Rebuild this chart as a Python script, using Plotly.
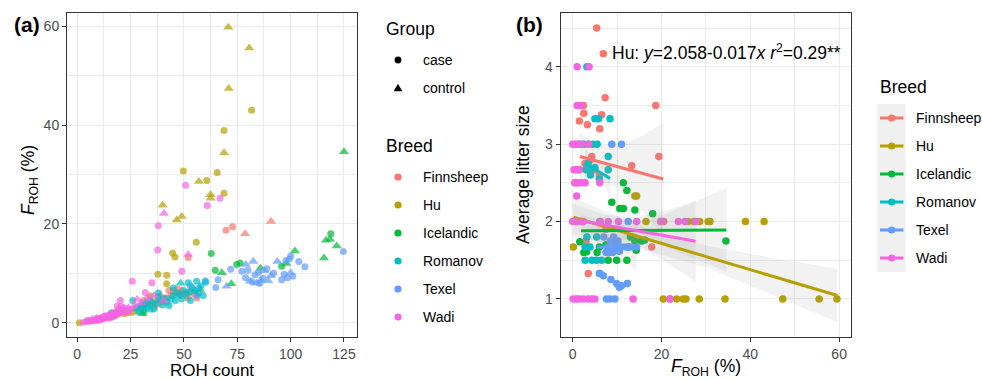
import plotly.graph_objects as go

W, H = 982, 380
FONT = "Liberation Sans, Arial, Helvetica, sans-serif"

breeds = ["Finnsheep", "Hu", "Icelandic", "Romanov", "Texel", "Wadi"]
breed_colors = ["#F8766D", "#B79F00", "#00BA38", "#00BFC4", "#619CFF", "#F564E3"]
group_labels = ["case", "control"]

# ---------------- panel (a): ROH count vs F_ROH (%) ; group c=case, t=control
a_count_fin = [90.8, 78.7, 69.7, 72.8, 52.0, 30, 33, 35, 37, 38, 40, 42, 44, 45, 46, 47, 48, 49, 50, 51, 52, 53, 55, 56, 43, 39, 36, 31]
a_froh_fin = [20.5, 18.0, 18.7, 19.4, 13.2, 3.0, 3.8, 4.2, 4.5, 3.8, 4.3, 5.0, 5.5, 6.5, 6.0, 6.8, 5.8, 6.5, 6.0, 5.5, 5.0, 6.2, 5.8, 5.0, 6.5, 5.5, 3.2, 4.5]
a_group_fin = "ttccccccccccccccctccccccctcc"

a_count_hu = [1, 70.8, 80.6, 71, 68.8, 57, 62.5, 62.5, 40, 49, 46.6, 81.7, 68.8, 49.7, 60.7, 65.6, 68.8, 55.8, 44.7, 45.8, 37.8, 41.9, 41.9, 34.2, 22, 24, 26, 17, 28]
a_froh_hu = [0.0, 59.8, 55.6, 47.4, 34.4, 28.6, 25.9, 25.2, 23.8, 21.5, 20.8, 43.0, 38.9, 30.7, 28.8, 30.4, 26.2, 16.3, 14.1, 13.3, 9.8, 9.6, 7.9, 5.4, 1.8, 2.0, 2.1, 1.3, 2.4]
a_group_hu = "cttttttttttcccccccccccccccccc"

a_count_ice = [125, 116.6, 118.5, 121.6, 115.6, 102, 118.8, 95.8, 62.8, 64.7, 74.7, 76.3, 67.8, 72.2, 85.8, 30.6, 57.5, 31, 98]
a_froh_ice = [34.6, 16.7, 16.9, 15.5, 13.1, 14.5, 18.0, 11.4, 14.0, 10.6, 11.8, 12.1, 10.1, 7.9, 11.0, 1.8, 6.7, 2.2, 12.0]
a_group_ice = "ttttttcccccctttttct"

a_count_rom = [16, 28, 29, 30, 31, 32, 33, 34, 35, 36, 37, 38, 39, 40, 41, 42, 43, 44, 45, 46, 47, 48, 48.5, 49, 50, 51, 52, 52.5, 53, 54, 55, 56, 57, 58, 60.2, 59, 34, 27, 31.5, 45, 38, 26]
a_froh_rom = [2.0, 3.0, 2.2, 3.5, 2.8, 4.0, 3.2, 4.5, 3.8, 2.8, 4.0, 5.2, 4.5, 3.6, 5.0, 4.2, 3.5, 4.8, 5.5, 4.5, 6.0, 5.5, 8.0, 4.8, 6.5, 5.8, 8.1, 6.2, 4.5, 7.0, 6.5, 8.4, 6.0, 7.5, 8.2, 5.5, 2.5, 2.8, 3.5, 7.0, 6.0, 4.5]
a_group_rom = "cccccccccccctccccccccctccccccccccccctttccc"

a_count_tex = [71.9, 64.9, 66, 70, 77.1, 78.9, 82.5, 81, 83.3, 85, 86, 87, 88.8, 90.7, 93.8, 95.8, 97.8, 99.4, 100, 98.4, 103.8, 106.7, 124.7, 84, 82, 89.5, 80, 92, 79, 97, 101, 56, 57, 53, 60, 87.5, 85.5, 100]
a_froh_tex = [10.8, 7.1, 8.7, 7.4, 10.4, 9.1, 12.4, 8.4, 9.7, 10.2, 8.6, 9.0, 10.9, 9.5, 12.4, 8.7, 12.6, 12.9, 10.1, 9.1, 12.4, 11.3, 14.4, 8.0, 8.3, 8.5, 10.6, 10.0, 11.8, 9.8, 9.4, 5.5, 7.0, 7.5, 8.5, 10.5, 8.0, 13.5]
a_group_tex = "ccctccttcctccttccctcccctctcctcccccctcc"

a_count_wad = [3, 4, 5, 6, 6.5, 7, 8, 8.5, 9, 10, 10.5, 11, 11.5, 12, 12.5, 13, 13.5, 14, 14.5, 15,
               15.5, 16, 16.5, 17, 17.5, 18, 18.5, 19, 19.5, 20, 21, 22, 23, 24, 25, 14, 16, 19, 21, 20.5, 22, 17, 12, 9,
               18.8, 20.2, 25.8, 28, 31.9, 35, 37.7, 38, 40.5, 40.6, 49, 50.8, 52, 60.9, 66.9, 36, 33, 27, 30,
               5, 7, 9, 11, 13, 15, 17, 18, 20, 23, 24, 10, 15.5, 22.5]
a_froh_wad = [0.1, 0.2, 0.25, 0.3, 0.35, 0.4, 0.45, 0.5, 0.55, 0.6, 0.7, 0.7, 0.8, 0.85, 0.9, 0.95, 1.0, 1.05, 1.1, 1.15,
              1.2, 1.3, 1.3, 1.45, 1.5, 1.55, 1.7, 1.8, 1.9, 2.0, 2.1, 2.3, 2.4, 2.5, 2.7, 1.4, 1.7, 2.5, 2.8, 3.2, 3.0, 2.0, 1.2, 0.8,
              3.4, 4.5, 8.4, 4.7, 6.1, 8.1, 14.7, 19.6, 4.4, 22.1, 10.4, 27.8, 13.8, 23.7, 25.2, 5.5, 5.0, 3.5, 4.0,
              0.5, 0.65, 0.9, 1.0, 1.3, 1.5, 1.75, 2.15, 2.4, 2.05, 3.0, 0.45, 0.95, 2.6]
a_group_wad = ("ctct" + "cct" * 8 + "ccct" + "ccc" + "ccccccc" + "tt" + "ccctcccctt" + "cctcc" + "tcct"
               + "ctcctcctcctcc")

# ---------------- panel (b): F_ROH (%) vs average litter size
b_froh_fin = [5.4, 6.9, 1.3, 2.4, 7.3, 18.7, 2.5, 6.5, 1.5, 3.3, 6.1, 4.3, 13.3, 19.4, 3.5, 17.8, 20.5, 4.0, 2.8, 3.0, 7.5, 5.0, 6.0, 19.8]
b_litter_fin = [4.5, 4.17, 3.5, 3.5, 3.6, 3.5, 3.4, 3.38, 3.3, 3.25, 3.2, 2.84, 2.72, 2.84, 1.33, 1.67, 2.0, 2.8, 2.75, 1.75, 1.9, 2.67, 2.6, 2.0]

b_froh_hu = [26, 28.6, 30.5, 30.9, 38.9, 43.1, 16.5, 20.4, 23.4, 24.9, 25.5, 28.5, 34.3, 47.3, 55.5, 59.5, 0.5, 14.0, 14.4, 0.15, 1.5, 1.2, 21.9, 27.3]
b_litter_hu = [2, 2, 2, 2, 2, 2, 2, 1, 1, 1, 1, 1, 1, 1, 1, 1, 2.5, 2.33, 2.33, 1.67, 2.67, 2.5, 1.0, 2.0]

b_froh_ice = [11.4, 12.2, 8.8, 10.6, 11.4, 14.0, 18.0, 1.6, 3.1, 34.5, 14.0, 15.5, 8.0, 9.9, 12.2, 2.5, 6.0, 9.0, 12.5, 13.0, 5.5, 7.5, 10.5, 16.2, 14.3]
b_litter_ice = [2.5, 2.4, 2.25, 2.17, 2.17, 2.15, 2.1, 1.74, 1.61, 1.75, 1.75, 1.75, 1.5, 1.5, 1.5, 1.6, 1.67, 1.75, 1.67, 1.8, 1.6, 1.7, 1.62, 1.76, 1.63]

b_froh_rom = [3.2, 5.0, 5.8, 8.4, 1.5, 2.5, 3.5, 4.5, 5.5, 8.0, 3.0, 4.0, 8.0, 3.5, 3.2, 5.4, 2.8, 3.9, 2.8, 4.3, 5.4, 6.5, 6.1, 4.0, 5.0, 6.0]
b_litter_rom = [4.0, 3.33, 3.33, 3.33, 3.0, 3.0, 3.0, 3.0, 3.0, 2.84, 2.67, 2.67, 2.67, 2.75, 1.8, 1.8, 1.67, 1.67, 1.5, 1.5, 1.5, 1.5, 1.33, 2.6, 2.7, 2.55]

b_froh_tex = [8.8, 11.0, 6.1, 12.5, 7.0, 8.0, 8.5, 9.0, 9.5, 10.0, 10.5, 11.0, 12.0, 13.0, 6.9, 8.6, 9.9, 10.5, 12.3, 11.0, 7.6, 8.4, 9.5, 7.5, 9.2, 10.2, 8.2, 14.4, 6.0]
b_litter_tex = [3.0, 3.0, 2.0, 2.0, 1.8, 1.67, 1.75, 1.6, 1.67, 1.7, 1.62, 1.67, 1.67, 1.67, 1.3, 1.25, 1.2, 1.15, 1.2, 1.17, 1.0, 1.0, 1.0, 1.6, 1.8, 1.75, 1.6, 1.67, 1.33]

b_froh_wad = [1.0, 3.7, 1.0, 1.8, 0.0, 0.5, 1.0, 1.5, 2.0, 3.6, 0.3, 0.8, 1.5, 0.5, 1.2, 2.0, 2.8, 6.1, 0.9,
              0.0, 0.5, 1.0, 1.5, 2.0, 2.4, 6.2, 8.0, 10.3, 14.4, 20.0, 23.8, 25.3, 27.7,
              0.1, 0.8, 1.5, 2.4, 3.5, 4.3, 5.0, 13.6, 21.9]
b_litter_wad = [4, 4, 3.5, 3.5, 3, 3, 3, 3, 3, 3, 2.67, 2.67, 2.67, 2.5, 2.5, 2.5, 2.5, 2.5, 2.33,
                2, 2, 2, 2, 2, 2, 2, 2, 2, 2, 2, 2, 2, 2,
                1, 1, 1, 1, 1, 1, 1, 1, 1]

# fitted lines (start / end) per breed
fit_x0 = [1.6, 0.15, 1.9, 2.8, 5.4, 0.0]
fit_x1 = [20.4, 59.6, 34.6, 8.4, 14.4, 27.7]
fit_y0 = [2.84, 2.055, 1.88, 2.754, 1.67, 2.03]
fit_y1 = [2.55, 1.045, 1.89, 2.556, 1.66, 1.745]

# confidence bands per breed
band_x_fin = [1.6, 6, 11, 16, 20.4]
band_lo_fin = [2.54, 2.55, 2.40, 2.12, 1.82]
band_hi_fin = [3.14, 2.99, 2.99, 3.12, 3.28]
band_x_hu = [0.15, 15, 30, 45, 59.6]
band_lo_hu = [1.80, 1.65, 1.41, 1.05, 0.70]
band_hi_hu = [2.31, 1.95, 1.69, 1.53, 1.39]
band_x_ice = [1.9, 10, 18, 26, 34.6]
band_lo_ice = [1.68, 1.78, 1.745, 1.56, 1.35]
band_hi_ice = [2.08, 1.98, 2.03, 2.22, 2.43]
band_x_rom = [2.8, 4.2, 5.6, 7.0, 8.4]
band_lo_rom = [2.55, 2.57, 2.55, 2.47, 2.34]
band_hi_rom = [2.95, 2.83, 2.76, 2.74, 2.77]
band_x_tex = [5.4, 7.6, 9.9, 12.1, 14.4]
band_lo_tex = [1.37, 1.49, 1.54, 1.48, 1.36]
band_hi_tex = [1.97, 1.85, 1.80, 1.84, 1.96]
band_x_wad = [0.0, 7, 14, 21, 27.7]
band_lo_wad = [1.83, 1.83, 1.72, 1.48, 1.22]
band_hi_wad = [2.23, 2.09, 2.06, 2.14, 2.27]

# ---------------------------------------------------------------------------
panel_a = [(a_count_fin, a_froh_fin, a_group_fin), (a_count_hu, a_froh_hu, a_group_hu),
           (a_count_ice, a_froh_ice, a_group_ice), (a_count_rom, a_froh_rom, a_group_rom),
           (a_count_tex, a_froh_tex, a_group_tex), (a_count_wad, a_froh_wad, a_group_wad)]
panel_b = [(b_froh_fin, b_litter_fin), (b_froh_hu, b_litter_hu), (b_froh_ice, b_litter_ice),
           (b_froh_rom, b_litter_rom), (b_froh_tex, b_litter_tex), (b_froh_wad, b_litter_wad)]
bands = [(band_x_fin, band_lo_fin, band_hi_fin), (band_x_hu, band_lo_hu, band_hi_hu),
         (band_x_ice, band_lo_ice, band_hi_ice), (band_x_rom, band_lo_rom, band_hi_rom),
         (band_x_tex, band_lo_tex, band_hi_tex), (band_x_wad, band_lo_wad, band_hi_wad)]

fig = go.Figure()

draw_order = [0, 1, 2, 4, 3, 5]
for i in draw_order:
    x, y, g = panel_a[i]
    n = min(len(x), len(y), len(g))
    fig.add_trace(go.Scatter(
        x=x[:n], y=y[:n], mode="markers", xaxis="x", yaxis="y",
        name=breeds[i], showlegend=False, hoverinfo="skip",
        marker=dict(color=breed_colors[i],
                    symbol=["circle" if c == "c" else "triangle-up" for c in g[:n]],
                    size=[7 if c == "c" else 9 for c in g[:n]],
                    line=dict(width=0))))

for i in [0, 1, 2, 3, 4, 5]:
    x, y = panel_b[i]
    fig.add_trace(go.Scatter(
        x=x, y=y, mode="markers", xaxis="x2", yaxis="y2", name=breeds[i],
        showlegend=False, hoverinfo="skip",
        marker=dict(color=breed_colors[i], size=7.5, line=dict(width=0))))

for i in range(6):
    bx, lo, hi = bands[i]
    fig.add_trace(go.Scatter(
        x=list(bx) + list(bx[::-1]), y=list(hi) + list(lo[::-1]),
        mode="lines", fill="toself", fillcolor="rgba(153,153,153,0.13)",
        line=dict(width=0), xaxis="x2", yaxis="y2", showlegend=False, hoverinfo="skip"))

for i in range(6):
    fig.add_trace(go.Scatter(
        x=[fit_x0[i], fit_x1[i]], y=[fit_y0[i], fit_y1[i]], mode="lines",
        line=dict(color=breed_colors[i], width=3), xaxis="x2", yaxis="y2",
        showlegend=False, hoverinfo="skip"))


def ax(domain, rng, dtick, minor_dtick, anchor):
    return dict(domain=domain, range=rng, dtick=dtick, tick0=0, anchor=anchor,
                showline=True, linecolor="#333333", linewidth=1, mirror=True,
                ticks="outside", ticklen=4, tickcolor="#333333", tickwidth=1,
                showgrid=True, gridcolor="#EBEBEB", gridwidth=1.1, zeroline=False,
                tickfont=dict(size=14, color="#4D4D4D", family=FONT),
                minor=dict(dtick=minor_dtick, tick0=0, showgrid=True,
                           gridcolor="#EBEBEB", gridwidth=0.6, ticks=""))


ydom = [1 - 337 / H, 1 - 13 / H]
fig.update_layout(
    width=W, height=H, margin=dict(l=0, r=0, t=0, b=0),
    paper_bgcolor="white", plot_bgcolor="white", showlegend=False,
    font=dict(family=FONT, color="black"),
    xaxis=ax([67 / W, 357 / W], [-4.8, 131.1], 25, 12.5, "y"),
    yaxis=ax(ydom, [-2.9, 62.7], 20, 10, "x"),
    xaxis2=ax([560.7 / W, 850.7 / W], [-2.7, 62.6], 20, 10, "y2"),
    yaxis2=ax(ydom, [0.508, 4.695], 1, 0.5, "x2"),
)

shapes = []
annotations = []


def PX(x):
    return x / W


def PY(y):
    return 1 - y / H


def text(x, y, s, size, xanchor="left", angle=0, color="black"):
    annotations.append(dict(x=PX(x), y=PY(y), xref="paper", yref="paper", text=s,
                            showarrow=False, xanchor=xanchor, yanchor="middle",
                            textangle=angle, font=dict(size=size, color=color, family=FONT)))


def circle(cx, cy, r, color):
    shapes.append(dict(type="circle", xref="paper", yref="paper",
                       x0=PX(cx - r), x1=PX(cx + r), y0=PY(cy + r), y1=PY(cy - r),
                       fillcolor=color, line=dict(width=0)))


def triangle(cx, cy, s, color):
    p = "M {:.5f},{:.5f} L {:.5f},{:.5f} L {:.5f},{:.5f} Z".format(
        PX(cx), PY(cy - s), PX(cx - s * 1.05), PY(cy + s * 0.75), PX(cx + s * 1.05), PY(cy + s * 0.75))
    shapes.append(dict(type="path", xref="paper", yref="paper", path=p,
                       fillcolor=color, line=dict(width=0)))


# panel labels
text(12, 25, "<b>(a)</b>", 21)
text(514, 25, "<b>(b)</b>", 21)

# axis titles
text(212, 370, "ROH count", 17)
annotations[-1]["xanchor"] = "center"
text(30, 180, "<i>F</i><sub>ROH</sub> (%)", 17.5, xanchor="center", angle=-90)
text(706, 367, "<i>F</i><sub>ROH</sub> (%)", 17.5, xanchor="center")
text(523, 175, "Average litter size", 17.5, xanchor="center", angle=-90)

# regression equation
text(610, 52, "Hu: <i>y</i>=2.058-0.017<i>x</i> <i>r</i><sup>2</sup>=0.29**", 17.5)

# legend (a): Group
text(384, 29, "Group", 17.5)
circle(398, 60, 3.4, "black")
text(421, 60, group_labels[0], 14)
triangle(398, 88, 4.2, "black")
text(421, 88, group_labels[1], 14)
# legend (a): Breed
text(384, 146, "Breed", 17.5)
for i, b in enumerate(breeds):
    cy = 177 + 28 * i
    circle(398, cy, 3.6, breed_colors[i])
    text(421, cy, b, 14)

# legend (b): Breed
text(878, 87, "Breed", 17.5)
shapes.append(dict(type="rect", xref="paper", yref="paper", x0=PX(877), x1=PX(905.7),
                   y0=PY(272), y1=PY(104), fillcolor="#F0F0F0", line=dict(width=0), layer="below"))
for i, b in enumerate(breeds):
    cy = 118 + 28 * i
    shapes.append(dict(type="line", xref="paper", yref="paper", x0=PX(880), x1=PX(903.5),
                       y0=PY(cy), y1=PY(cy), line=dict(color=breed_colors[i], width=3)))
    circle(891.7, cy, 3.6, breed_colors[i])
    text(914, cy, b, 14)

fig.update_layout(shapes=shapes, annotations=annotations)
fig.write_html("out.html", config={"displayModeBar": False},
               post_script="document.body.style.margin='0px';document.body.style.overflow='hidden';")
